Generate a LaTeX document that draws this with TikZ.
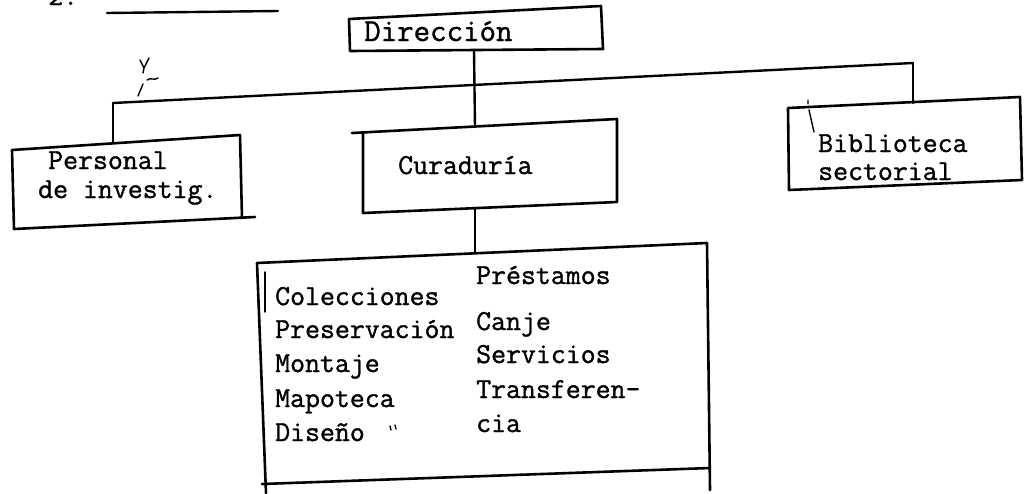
\documentclass[tikz,border=0pt]{standalone}
\usepackage{fontspec}
\newfontfamily\typew{Latin Modern Mono}[FakeBold=1.2]
\begin{document}
\begin{tikzpicture}[x=1pt,y=-1pt,line cap=round,line join=round,
  lbl/.style={anchor=base west,inner sep=0pt,font=\typew\fontsize{29}{34}\selectfont},
  biglbl/.style={anchor=base west,inner sep=0pt,font=\typew\fontsize{32}{38}\selectfont},
  boxline/.style={line width=2.6pt},
  conn/.style={line width=2.4pt},
  strayink/.style={line width=1.4pt}]
\useasboundingbox[fill=white] (0,0) rectangle (1036,493);

% ---- title (cut off at the top)
\node[lbl] (title) at (48,5) {2.};
\coordinate (tuL) at (107,13);
\coordinate (tuR) at (278,11);
\draw[conn] (tuL) -- (tuR);

% ---- Direccion box
\coordinate (dTL) at (349,19);
\coordinate (dTR) at (601,6);
\coordinate (dBR) at (603,49);
\coordinate (dBL) at (350,51);
\draw[boxline] (dTL) -- (dTR) -- (dBR) -- (dBL) -- cycle;
\node[biglbl] (dir) at (364,41) {Dirección};

% ---- Personal box
\coordinate (pTL) at (12,150);
\coordinate (pTR) at (240,135);
\coordinate (pBR) at (255,217);
\coordinate (pBL) at (14,229);
\draw[boxline] (pTL) -- (pTR) -- (242,218);
\draw[boxline] (pTL) -- (pBL) -- (pBR);
\node[lbl] (pers1) at (48,169) {Personal};
\node[lbl] (pers2) at (38,198) {de investig.};

% ---- Curaduria box
\coordinate (cTL) at (352,133);
\coordinate (cTR) at (617,119);
\coordinate (cBR) at (617,202);
\coordinate (cBL) at (363,213);
\draw[boxline] (cTL) -- (cTR) -- (cBR) -- (cBL) -- (363,133);
\node[lbl] (cur) at (398,174) {Curaduría};

% ---- Biblioteca box
\coordinate (bTL) at (788,108);
\coordinate (bTR) at (1020,97);
\coordinate (bBR) at (1022,180);
\coordinate (bBL) at (789,190);
\draw[boxline] (bTL) -- (bTR) -- (bBR) -- (bBL) -- cycle;
\node[lbl] (bib1) at (818,152) {Biblioteca};
\node[lbl] (bib2) at (818,180) {sectorial};
\draw[strayink] (808,100) -- (808,104) (809,110) -- (814,132);

% ---- Sections box
\coordinate (sTL) at (257,263);
\coordinate (sTR) at (707,243);
\coordinate (sRB) at (710,490);
\coordinate (sLB) at (266,493);
\coordinate (sBL) at (262,484);
\coordinate (sBR) at (710,468);
\draw[boxline] (sLB) -- (sTL) -- (sTR) -- (sRB);
\draw[boxline] (sBL) -- (sBR);
\draw[strayink] (265,272) -- (265,312);
\node[lbl] (c1) at (275,305) {Colecciones};
\node[lbl] (c2) at (275,338) {Preservación};
\node[lbl] (c3) at (275,372) {Montaje};
\node[lbl] (c4) at (275,407) {Mapoteca};
\node[lbl] (c5) at (275,441) {Diseño};
\node[lbl] (r1) at (476,284) {Préstamos};
\node[lbl] (r2) at (476,330) {Canje};
\node[lbl] (r3) at (476,363) {Servicios};
\node[lbl] (r4) at (476,398) {Transferen-};
\node[lbl] (r5) at (476,432) {cia};
\draw[strayink] (390,426) -- (391,430) (395,425) -- (396,429);

% ---- connectors
\coordinate (dB) at (474,50);
\coordinate (hL) at (113,103);
\coordinate (hR) at (913,63);
\coordinate (pT) at (113,143);
\coordinate (bT) at (913,103);
\coordinate (cT) at (475,127);
\coordinate (cB) at (475,208);
\coordinate (sT) at (475,253);
\draw[conn] (hL) -- (hR);
\draw[conn] (dB) -- (cT);
\draw[conn] (hL) -- (pT);
\draw[conn] (hR) -- (bT);
\draw[conn] (cB) -- (sT);

% ---- handwritten mark
\draw[strayink] (140,60) -- (144,68) -- (143,73) (149,58) -- (144,68);
\draw[strayink] (147,80) .. controls (151,77) and (154,81) .. (158,78);
\draw[strayink] (143,84) -- (138,96);
\end{tikzpicture}
\end{document}
